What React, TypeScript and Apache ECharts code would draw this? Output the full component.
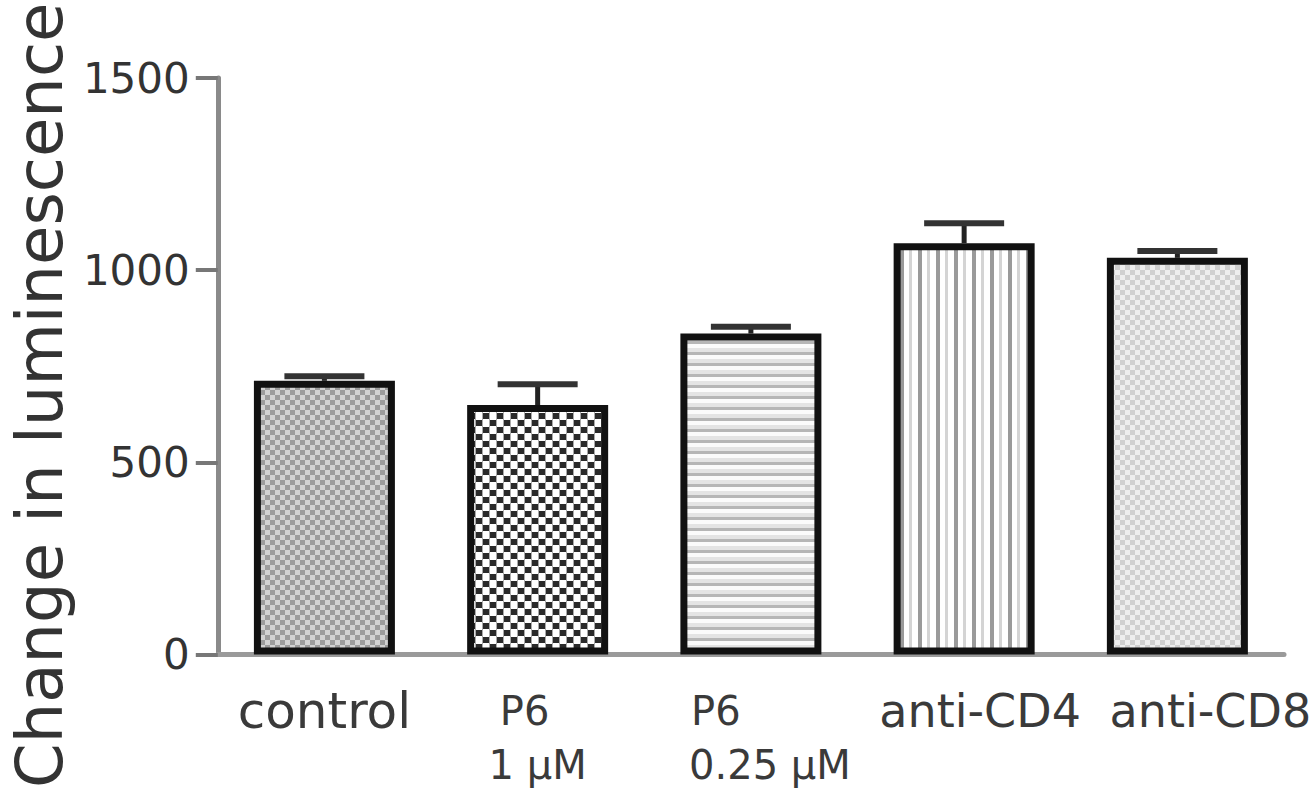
import React, { useEffect, useRef } from "react";
import * as echarts from "echarts";

const categories = ["control", "P6\n1 µM", "P6\n0.25 µM", "anti-CD4", "anti-CD8"];
const means = [712, 649, 835, 1070, 1032];
const upper = [724, 703, 853, 1122, 1050];
const yTicks = [0, 500, 1000, 1500];

const FONT = "DejaVu Sans";

function makeTile(w: number, h: number, draw: (ctx: CanvasRenderingContext2D) => void) {
  const c = document.createElement("canvas");
  c.width = w;
  c.height = h;
  const ctx = c.getContext("2d")!;
  draw(ctx);
  return c;
}

function patterns() {
  const control = makeTile(10, 10, (g) => {
    g.fillStyle = "#d2d2d2";
    g.fillRect(0, 0, 10, 10);
    g.fillStyle = "#9c9c9c";
    g.fillRect(0, 0, 5, 5);
    g.fillRect(5, 5, 5, 5);
  });
  const p6a = makeTile(14, 14, (g) => {
    g.fillStyle = "#ffffff";
    g.fillRect(0, 0, 14, 14);
    g.fillStyle = "#2a2a2a";
    g.fillRect(0, 0, 6, 6);
    g.fillRect(7, 7, 6, 6);
    g.fillStyle = "#aaaaaa";
    g.fillRect(6, 0, 1, 14);
    g.fillRect(13, 0, 1, 14);
  });
  const p6b = makeTile(4, 11, (g) => {
    g.fillStyle = "#e4e4e4";
    g.fillRect(0, 0, 4, 11);
    g.fillStyle = "#b6b6b6";
    g.fillRect(0, 0, 4, 3);
    g.fillStyle = "#fbfbfb";
    g.fillRect(0, 3, 4, 4);
  });
  const cd4 = makeTile(18, 4, (g) => {
    g.fillStyle = "#ffffff";
    g.fillRect(0, 0, 18, 4);
    g.fillStyle = "#9a9a9a";
    g.fillRect(0, 0, 4, 4);
    g.fillStyle = "#d4d4d4";
    g.fillRect(9, 0, 3, 4);
  });
  const cd8 = makeTile(10, 10, (g) => {
    g.fillStyle = "#eeeeee";
    g.fillRect(0, 0, 10, 10);
    g.fillStyle = "#d0d0d0";
    g.fillRect(0, 0, 5, 5);
    g.fillRect(5, 5, 5, 5);
  });
  return [control, p6a, p6b, cd4, cd8];
}

export default function App() {
  const ref = useRef<HTMLDivElement>(null);

  useEffect(() => {
    if (!ref.current) return;
    const chart = echarts.init(ref.current, null, { renderer: "svg" });
    const pats = patterns();

    const labelRich = {
      c: { fontSize: 50, fontFamily: FONT, color: "#3a3a3a", lineHeight: 54 },
      a4: { fontSize: 46, fontFamily: FONT, color: "#3a3a3a", lineHeight: 54, padding: [0, 0, 0, 32] },
      a8: { fontSize: 46, fontFamily: FONT, color: "#3a3a3a", lineHeight: 54, padding: [0, 0, 0, 66] },
      p1: { fontSize: 40, fontFamily: FONT, color: "#3a3a3a", lineHeight: 54, padding: [0, 26, 0, 0] },
      u1: { fontSize: 40, fontFamily: FONT, color: "#3a3a3a", lineHeight: 54 },
      p2: { fontSize: 40, fontFamily: FONT, color: "#3a3a3a", lineHeight: 54, padding: [0, 70, 0, 0] },
      u2: { fontSize: 40, fontFamily: FONT, color: "#3a3a3a", lineHeight: 54, padding: [0, 0, 0, 38] },
    };

    const fmt = (v: string) => {
      if (v === categories[0]) return `{c|${v}}`;
      if (v === categories[1]) {
        const [a, b] = v.split("\n");
        return `{p1|${a}}\n{u1|${b}}`;
      }
      if (v === categories[2]) {
        const [a, b] = v.split("\n");
        return `{p2|${a}}\n{u2|${b}}`;
      }
      if (v === categories[3]) return `{a4|${v}}`;
      return `{a8|${v}}`;
    };

    chart.setOption({
      animation: false,
      backgroundColor: "#ffffff",
      grid: { left: 216, right: 32, top: 78, bottom: 134, containLabel: false },
      xAxis: {
        type: "category",
        data: categories,
        axisLine: { lineStyle: { color: "#9a9a9a", width: 5 } },
        axisTick: { alignWithLabel: true, length: 20, lineStyle: { color: "#555", width: 3 } },
        axisLabel: {
          interval: 0,
          margin: 29,
          formatter: fmt,
          rich: labelRich,
          fontFamily: FONT,
        },
      },
      yAxis: {
        type: "value",
        min: 0,
        max: 1500,
        interval: 500,
        name: "Change in luminescence",
        nameLocation: "middle",
        nameGap: 138,
        nameTextStyle: {
          fontSize: 64,
          fontFamily: FONT,
          color: "#333",
          padding: [0, 58, 0, 0],
        },
        axisLine: { show: true, lineStyle: { color: "#8a8a8a", width: 5 } },
        axisTick: { show: true, length: 22, lineStyle: { color: "#777", width: 4 } },
        axisLabel: {
          margin: 28,
          fontSize: 42,
          fontFamily: FONT,
          color: "#333",
          formatter: (v: number) => (yTicks.includes(v) ? String(v) : ""),
        },
        splitLine: { show: false },
      },
      series: [
        {
          type: "bar",
          barWidth: 141,
          data: means.map((m, i) => ({
            value: m,
            itemStyle: {
              color: { image: pats[i], repeat: "repeat" },
              borderColor: "#111",
              borderWidth: 7,
            },
          })),
          z: 2,
        },
        {
          type: "custom",
          z: 3,
          data: means.map((m, i) => [i, m, upper[i]]),
          encode: { x: 0, y: 2 },
          renderItem: (params: any, api: any) => {
            const i = api.value(0);
            const base = api.coord([i, api.value(1)]);
            const top = api.coord([i, api.value(2)]);
            const half = 40;
            return {
              type: "group",
              children: [
                {
                  type: "line",
                  shape: { x1: base[0], y1: base[1], x2: top[0], y2: top[1] },
                  style: { stroke: "#222", lineWidth: 5 },
                },
                {
                  type: "line",
                  shape: { x1: top[0] - half, y1: top[1], x2: top[0] + half, y2: top[1] },
                  style: { stroke: "#333", lineWidth: 6 },
                },
              ],
            };
          },
        },
      ],
    });

    return () => chart.dispose();
  }, []);

  return <div ref={ref} style={{ width: 1316, height: 791, position: "absolute", left: 0, top: 0 }} />;
}
